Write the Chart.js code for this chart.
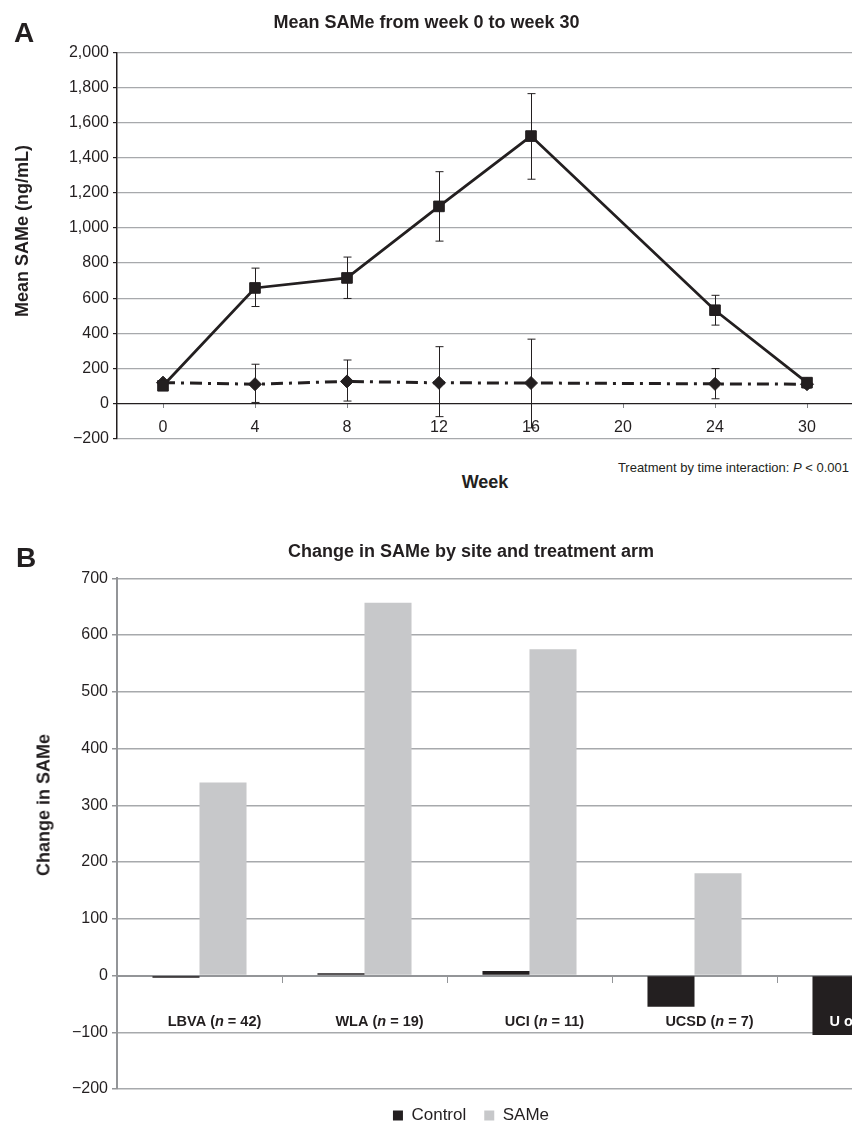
<!DOCTYPE html>
<html>
<head>
<meta charset="utf-8">
<title>SAMe</title>
<script src="https://cdn.jsdelivr.net/npm/chart.js@4.4.1/dist/chart.umd.min.js"></script>
<style>
    html, body { margin: 0; padding: 0; background: #fff; width: 852px; height: 1123px; overflow: hidden; }
    body { position: relative; font-family: "Liberation Sans", Arial, sans-serif; color: #231f20; }
    .wrap { position: absolute; left: 0; }
    #wrap-a { top: 0; width: 970px; height: 452px; }
    #wrap-b { top: 528px; width: 1008px; height: 606px; }
    .txt { position: absolute; white-space: nowrap; }
    .panel { font-size: 28px; font-weight: bold; line-height: 28px; }
    .ytitle { font-size: 18px; font-weight: bold; transform: translate(-50%, -50%) rotate(-90deg); }
</style>
</head>
<body>
<div class="wrap" id="wrap-a"><canvas id="chart-a"></canvas></div>
<div class="wrap" id="wrap-b"><canvas id="chart-b"></canvas></div>

<div class="txt panel" style="left:14px; top:19px;">A</div>
<div class="txt panel" style="left:16px; top:544px;">B</div>
<div class="txt ytitle" style="left:22px; top:231px;">Mean SAMe (ng/mL)</div>
<div class="txt ytitle" style="left:44px; top:805px;">Change in SAMe</div>
<div class="txt" style="left:485px; top:472px; transform: translateX(-50%); font-size:18px; font-weight:bold;">Week</div>
<div class="txt" style="right:3px; top:460px; font-size:13px; line-height:16px;">Treatment by time interaction: <i>P</i> &lt; 0.001</div>

<script>
const ink = '#231f20';
const gridGray = '#a7a9ac';
const axisGray = '#939598';
const fontFamily = '"Liberation Sans", Arial, sans-serif';

// Panel A: mean SAMe by week
const weeks = ['0', '4', '8', '12', '16', '20', '24', '30'];
const sameMean = [100, 658, 715, 1123, 1524, null, 531, 118];
const sameLow = [null, 552, 598, 925, 1278, null, 446, null];
const sameHigh = [null, 771, 834, 1321, 1766, null, 616, null];
const controlMean = [118, 109, 125, 117, 116, null, 111, 109];
const controlLow = [null, 5, 13, -76, -140, null, 26, 87];
const controlHigh = [null, 223, 247, 323, 366, null, 198, 131];
const ticksA = { min: -200, max: 2000, step: 200 };

// Panel B: change in SAMe by site
const sites = ['LBVA', 'WLA', 'UCI', 'UCSD', 'U of A'];
const siteN = [42, 19, 11, 7, 8];
const controlChange = [-4, 4, 8, -55, -105];
const sameChange = [340, 657, 575, 180, 120];
const ticksB = { min: -200, max: 700, step: 100 };

Chart.defaults.font.family = fontFamily;
Chart.defaults.color = ink;

function minusSign(v) {
    return v < 0 ? '\u2212' + Math.abs(v).toLocaleString('en-US') : v.toLocaleString('en-US');
}

// whiskers for panel A, drawn under the markers
const errorBars = {
    id: 'errorBars',
    beforeDatasetsDraw(chart) {
        const { ctx, scales: { x, y } } = chart;
        ctx.save();
        ctx.strokeStyle = ink;
        ctx.lineWidth = 1;
        [[sameLow, sameHigh], [controlLow, controlHigh]].forEach(([lo, hi]) => {
            lo.forEach((v, i) => {
                if (v == null) return;
                const px = Math.round(x.getPixelForValue(i)) + 0.5;
                const y1 = y.getPixelForValue(v);
                const y2 = y.getPixelForValue(hi[i]);
                ctx.beginPath();
                ctx.moveTo(px, y1); ctx.lineTo(px, y2);
                ctx.moveTo(px - 4, y1); ctx.lineTo(px + 4, y1);
                ctx.moveTo(px - 4, y2); ctx.lineTo(px + 4, y2);
                ctx.stroke();
            });
        });
        ctx.restore();
    }
};

// site names under the zero line, with italic n
const siteLabels = {
    id: 'siteLabels',
    afterDatasetsDraw(chart) {
        const { ctx, scales: { x, y } } = chart;
        const ly = y.getPixelForValue(0) + 46;
        const bold = 'bold 14.5px ' + fontFamily;
        const italic = 'italic bold 14.5px ' + fontFamily;

        function drawAll(color) {
            ctx.fillStyle = color;
            ctx.textBaseline = 'middle';
            ctx.textAlign = 'left';
            sites.forEach((site, i) => {
                const parts = [[site + ' (', bold], ['n', italic], [' = ' + siteN[i] + ')', bold]];
                let w = 0;
                parts.forEach(p => { ctx.font = p[1]; w += ctx.measureText(p[0]).width; });
                let px = x.getPixelForValue(i) + 15 - w / 2;
                parts.forEach(p => {
                    ctx.font = p[1];
                    ctx.fillText(p[0], px, ly);
                    px += ctx.measureText(p[0]).width;
                });
            });
        }

        ctx.save();
        drawAll(ink);
        // where a label sits on a dark bar, redraw it in white
        chart.getDatasetMeta(0).data.forEach(bar => {
            const top = Math.min(bar.y, bar.base);
            ctx.save();
            ctx.beginPath();
            ctx.rect(bar.x - bar.width / 2, top, bar.width, Math.abs(bar.y - bar.base));
            ctx.clip();
            drawAll('#fff');
            ctx.restore();
        });
        ctx.restore();
    }
};

new Chart(document.getElementById('chart-a'), {
    type: 'line',
    data: {
        labels: weeks,
        datasets: [
            {
                label: 'SAMe',
                data: sameMean,
                borderColor: ink,
                backgroundColor: ink,
                borderWidth: 2.75,
                pointStyle: 'rect',
                pointRadius: 7.5,
                pointBorderWidth: 1,
                spanGaps: true
            },
            {
                label: 'Control',
                data: controlMean,
                borderColor: ink,
                backgroundColor: ink,
                borderWidth: 3,
                borderDash: [12, 6, 3, 6],
                pointStyle: 'rectRot',
                pointRadius: 6.5,
                pointBorderWidth: 1,
                spanGaps: true
            }
        ]
    },
    options: {
        responsive: true,
        maintainAspectRatio: false,
        animation: false,
        layout: { padding: { left: 0, right: 117, top: 0, bottom: 11.4 } },
        plugins: {
            legend: { display: false },
            tooltip: { enabled: false },
            title: {
                display: true,
                text: 'Mean SAMe from week 0 to week 30',
                color: ink,
                font: { size: 18, weight: 'bold' },
                padding: { top: 12, bottom: 19 }
            }
        },
        scales: {
            x: {
                type: 'category',
                offset: true,
                position: { y: 0 },
                grid: { drawOnChartArea: false, offset: false, tickLength: 4, color: '#808285' },
                border: { color: ink, width: 1 },
                ticks: { color: ink, font: { size: 16 }, padding: 11, autoSkip: false, maxRotation: 0 }
            },
            y: {
                min: ticksA.min,
                max: ticksA.max,
                ticks: { stepSize: ticksA.step, color: ink, font: { size: 16 }, padding: 4, callback: v => minusSign(v) },
                grid: {
                    color: c => c.tick && c.tick.value === 0 ? ink : gridGray,
                    lineWidth: 1.2,
                    tickLength: 4,
                    tickColor: ink
                },
                border: { color: ink, width: 1.5 },
                afterFit: s => { s.width = 117; }
            }
        }
    },
    plugins: [errorBars]
});

new Chart(document.getElementById('chart-b'), {
    type: 'bar',
    data: {
        labels: sites,
        datasets: [
            { label: 'Control', data: controlChange, backgroundColor: ink, borderWidth: 0, categoryPercentage: 0.57, barPercentage: 1 },
            { label: 'SAMe', data: sameChange, backgroundColor: '#c7c8ca', borderWidth: 0, categoryPercentage: 0.57, barPercentage: 1 }
        ]
    },
    options: {
        responsive: true,
        maintainAspectRatio: false,
        animation: false,
        layout: { padding: { left: 0, right: 66, top: 0, bottom: 0 } },
        plugins: {
            tooltip: { enabled: false },
            title: {
                display: true,
                text: 'Change in SAMe by site and treatment arm',
                color: ink,
                font: { size: 18, weight: 'bold' },
                padding: { top: 13, bottom: 15.7 }
            },
            legend: {
                position: 'bottom',
                labels: { boxWidth: 10, boxHeight: 10, padding: 18, color: ink, font: { size: 17 } }
            }
        },
        scales: {
            x: {
                position: { y: 0 },
                grid: { drawOnChartArea: false, tickLength: 6, color: axisGray },
                border: { color: axisGray, width: 2 },
                ticks: { display: false }
            },
            y: {
                min: ticksB.min,
                max: ticksB.max,
                ticks: { stepSize: ticksB.step, color: ink, font: { size: 16 }, padding: 4, callback: v => minusSign(v) },
                grid: {
                    color: c => c.tick && c.tick.value === 0 ? 'rgba(0,0,0,0)' : gridGray,
                    lineWidth: 1.5,
                    tickLength: 5,
                    tickColor: axisGray
                },
                border: { color: axisGray, width: 2 },
                afterFit: s => { s.width = 117; }
            }
        }
    },
    plugins: [siteLabels]
});
</script>
</body>
</html>
